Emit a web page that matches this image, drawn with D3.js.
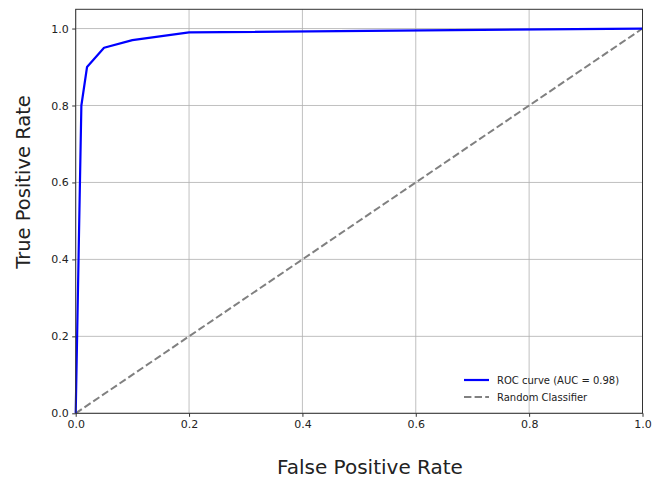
<!DOCTYPE html>
<html>
<head>
<meta charset="utf-8">
<script src="https://cdn.jsdelivr.net/npm/d3@7"></script>
<style>
  body { margin: 0; background: #fff; }
  text { font-family: "DejaVu Sans", sans-serif; }
</style>
</head>
<body>
<svg width="661" height="479"></svg>
<script>
// ROC curve points
const fpr = [0, 0.01, 0.02, 0.05, 0.1, 0.2, 1.0];
const tpr = [0, 0.8, 0.9, 0.95, 0.97, 0.99, 1.0];
const diagX = [0, 1];
const diagY = [0, 1];
const xTicks = [0, 0.2, 0.4, 0.6, 0.8, 1.0];
const yTicks = [0, 0.2, 0.4, 0.6, 0.8, 1.0];

const width = 661, height = 479;
const margin = { left: 75.7, right: 18.5, top: 9.3, bottom: 65.7 };

const svg = d3.select('svg');

const x = d3.scaleLinear().domain([0, 1]).range([margin.left, width - margin.right]);
const y = d3.scaleLinear().domain([0, 1.05]).range([height - margin.bottom, margin.top]);

// grid
const grid = svg.append('g');
grid.selectAll('line.gx').data(xTicks).join('line')
  .attr('x1', d => x(d)).attr('x2', d => x(d))
  .attr('y1', y(0)).attr('y2', y(1.05))
  .attr('stroke', '#b0b0b0').attr('stroke-width', 0.8);
grid.selectAll('line.gy').data(yTicks).join('line')
  .attr('y1', d => y(d)).attr('y2', d => y(d))
  .attr('x1', x(0)).attr('x2', x(1))
  .attr('stroke', '#b0b0b0').attr('stroke-width', 0.8);

// diagonal
const line = d3.line().x(d => x(d[0])).y(d => y(d[1]));
svg.append('path')
  .attr('d', line(diagX.map((v, i) => [v, diagY[i]])))
  .attr('fill', 'none')
  .attr('stroke', '#808080')
  .attr('stroke-width', 2)
  .attr('stroke-dasharray', '7.4,3.2');

// ROC
svg.append('path')
  .attr('d', line(fpr.map((v, i) => [v, tpr[i]])))
  .attr('fill', 'none')
  .attr('stroke', '#0000ff')
  .attr('stroke-width', 2.2)
  .attr('stroke-linejoin', 'round');

// frame
svg.append('rect')
  .attr('x', x(0)).attr('y', y(1.05))
  .attr('width', x(1) - x(0)).attr('height', y(0) - y(1.05))
  .attr('fill', 'none').attr('stroke', '#333').attr('stroke-width', 1);

// axes
const xAxis = svg.append('g')
  .attr('transform', `translate(0,${y(0)})`)
  .call(d3.axisBottom(x).tickValues(xTicks).tickFormat(d3.format('.1f')).tickSize(3.5).tickPadding(3.5));
const yAxis = svg.append('g')
  .attr('transform', `translate(${x(0)},0)`)
  .call(d3.axisLeft(y).tickValues(yTicks).tickFormat(d3.format('.1f')).tickSize(3.5).tickPadding(3.5));
[xAxis, yAxis].forEach(a => {
  a.select('.domain').remove();
  a.selectAll('.tick line').attr('stroke', '#333');
  a.selectAll('.tick text').attr('font-size', 11).attr('fill', '#222')
    .style('font-family', '"DejaVu Sans", sans-serif');
});

// axis labels
svg.append('text')
  .attr('x', 370).attr('y', 474)
  .attr('text-anchor', 'middle').attr('font-size', 20).attr('fill', '#222')
  .text('False Positive Rate');
svg.append('text')
  .attr('transform', 'translate(30,182) rotate(-90)')
  .attr('text-anchor', 'middle').attr('font-size', 19.5).attr('fill', '#222')
  .text('True Positive Rate');

// legend
const legendItems = [
  { label: 'ROC curve (AUC = 0.98)', color: '#0000ff', dash: null, width: 2.2 },
  { label: 'Random Classifier', color: '#808080', dash: '7.4,3.2', width: 2 }
];
const lg = svg.append('g').attr('transform', 'translate(464,380)');
legendItems.forEach((d, i) => {
  const g = lg.append('g').attr('transform', `translate(0,${i * 17})`);
  g.append('line').attr('x1', 0).attr('x2', 25).attr('y1', 0).attr('y2', 0)
    .attr('stroke', d.color).attr('stroke-width', d.width)
    .attr('stroke-dasharray', d.dash);
  g.append('text').attr('x', 33).attr('y', 4).attr('font-size', 10).attr('fill', '#222')
    .text(d.label);
});
</script>
</body>
</html>
